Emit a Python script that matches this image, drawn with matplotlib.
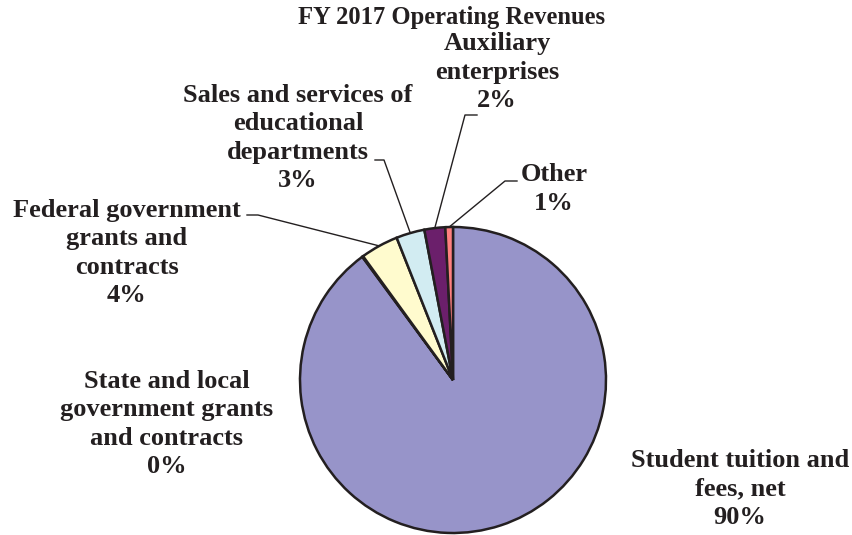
import numpy as np
import matplotlib.pyplot as plt

# revenue shares (percent), clockwise from 12 o'clock
categories = ["Student tuition and\nfees, net",
              "State and local\ngovernment grants\nand contracts",
              "Federal government\ngrants and\ncontracts",
              "Sales and services of\neducational\ndepartments",
              "Auxiliary\nenterprises",
              "Other"]
shares = [89.9, 0.1, 4.0, 3.0, 2.2, 0.8]
pct_labels = ["90%", "0%", "4%", "3%", "2%", "1%"]
colors = ["#9794C9", "#CC99CC", "#FFFBCE", "#D2ECF2", "#6B1F6B", "#FF8080"]

W, H = 853, 535
plt.rcParams["font.family"] = ["Liberation Serif", "DejaVu Serif"]

fig = plt.figure(figsize=(W / 100, H / 100), dpi=100)
ax = fig.add_axes([0, 0, 1, 1])

cx, cy, R = 453, H - 380, 153
wedges, _ = ax.pie(shares, colors=colors, startangle=90, counterclock=False,
                   center=(cx, cy), radius=R, frame=True,
                   wedgeprops=dict(edgecolor="#231F20", linewidth=1.8))
ax.set_xlim(0, W)
ax.set_ylim(0, H)
ax.axis("off")

txt = dict(ha="center", va="center", fontsize=19, fontweight="bold",
           color="#231F20", linespacing=1.3)

ax.text(452, H - 17, "FY 2017 Operating Revenues", fontsize=17.7,
        fontweight="bold", color="#231F20", ha="center", va="center")

# label centres (pixels from top) and leader elbows
label_pos = [(740, 489), (167, 424), (127, 253), (298, 138), (497, 72), (554, 189)]
leaders = {2: ((247, 215), (258, 215)),
           3: ((375, 160), (384, 160)),
           4: ((477, 115), (465, 115)),
           5: ((517, 181), (505, 181))}

for i, (lbl, p) in enumerate(zip(categories, pct_labels)):
    x, y = label_pos[i]
    ax.text(x, H - y, lbl + "\n" + p, **txt)
    if i in leaders:
        w = wedges[i]
        th = np.deg2rad((w.theta1 + w.theta2) / 2)
        ex, ey = cx + R * np.cos(th), cy + R * np.sin(th)
        (x0, y0), (x1, y1) = leaders[i]
        ax.plot([x0, x1, ex], [H - y0, H - y1, ey], color="#231F20", lw=1.0)

plt.savefig("out.png", dpi=100)
